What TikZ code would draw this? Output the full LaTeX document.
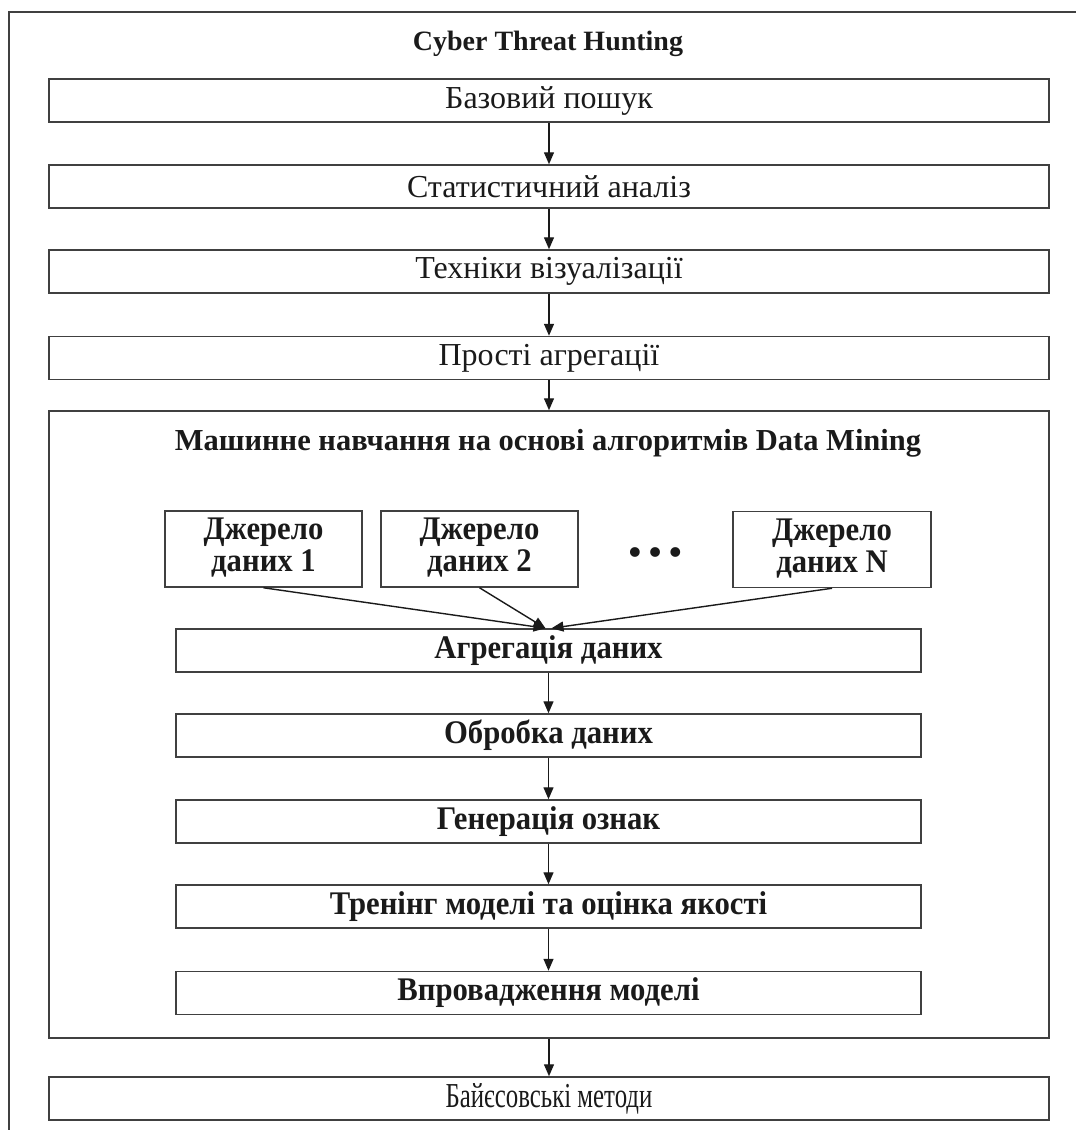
\documentclass[tikz,border=0pt]{standalone}
\usepackage{fontspec}
\usepackage{graphicx}
\setmainfont{Liberation Serif}
\usetikzlibrary{arrows.meta}
\definecolor{ink}{HTML}{1A1A1A}
\definecolor{edge}{HTML}{404040}
% horizontally condensed lettering
\newcommand{\cond}[2][0.93]{\scalebox{#1}[1]{#2}}
\newcommand{\twolines}[2]{\cond{\begin{tabular}{@{}c@{}}#1\\[-1pt]#2\end{tabular}}}
\begin{document}
\begin{tikzpicture}[x=1pt,y=-1pt,
  box/.style={draw=edge, line width=1.5pt, inner sep=0pt, text=ink,
    font=\fontsize{32}{34}\selectfont},
  wide/.style={box, minimum width=1000pt, minimum height=43pt},
  inner/.style={box, minimum width=745pt, minimum height=43pt,
    font=\fontsize{33}{34}\selectfont\bfseries},
  source/.style={box, minimum width=197pt, minimum height=76pt,
    font=\fontsize{33}{33}\selectfont\bfseries},
  heading/.style={inner sep=0pt, text=ink, font=\fontsize{28}{30}\selectfont\bfseries},
  arr/.style={draw=ink, line width=1.4pt, -{Triangle[length=12pt,width=10pt]}}
]
\useasboundingbox (0,0) rectangle (1076,1130);

% outer frame, running past the right and bottom edges
\draw[edge, line width=1.5pt] (1090,12) -- (9,12) -- (9,1140);

\node[heading] (title) at (548,44) {Cyber Threat Hunting};

\node[wide] (b1) at (549,100.5) {Базовий пошук};
\node[wide] (b2) at (549,186.5) {Статистичний аналіз};
\node[wide] (b3) at (549,271.5) {Техніки візуалізації};
\node[wide] (b4) at (549,358) {Прості агрегації};

% data mining block
\node[box, minimum width=1000pt, minimum height=627pt] (ml) at (549,724.5) {};
\node[heading, font=\fontsize{30.5}{32}\selectfont\bfseries] (mlt) at (548,443)
  {Машинне навчання на основі алгоритмів Data Mining};

\node[source] (s1) at (263.5,549) {\twolines{Джерело}{даних 1}};
\node[source] (s2) at (479.5,549) {\twolines{Джерело}{даних 2}};
\node[source, minimum width=198pt] (sn) at (832,549.5) {\twolines{Джерело}{даних N}};
\node[heading, anchor=base, font=\fontsize{60}{60}\selectfont\bfseries] (dots) at (655,556) {…};

\node[inner] (agg) at (548.5,650.5) {\cond{Агрегація даних}};
\node[inner] (proc) at (548.5,735.5) {\cond{Обробка даних}};
\node[inner] (feat) at (548.5,821.5) {\cond{Генерація ознак}};
\node[inner] (train) at (548.5,906.5) {\cond{Тренінг моделі та оцінка якості}};
\node[inner] (dep) at (548.5,993) {\cond{Впровадження моделі}};

\node[wide, font=\fontsize{35}{36}\selectfont] (bay) at (549,1098.5) {\cond[0.71]{Байєсовські методи}};

% main chain
\draw[arr] (b1) -- (b2);
\draw[arr] (b2) -- (b3);
\draw[arr] (b3) -- (b4);
\draw[arr] (b4.south) -- (ml.north);
\draw[arr] (ml.south) -- (bay.north);

% sources converge on aggregation
\draw[arr] (s1.south) -- ([xshift=-3pt]agg.north);
\draw[arr] (s2.south) -- ([xshift=-3pt]agg.north);
\draw[arr] (sn.south) -- ([xshift=3pt]agg.north);

% processing chain
\draw[arr] (agg) -- (proc);
\draw[arr] (proc) -- (feat);
\draw[arr] (feat) -- (train);
\draw[arr] (train) -- (dep);
\end{tikzpicture}
\end{document}
